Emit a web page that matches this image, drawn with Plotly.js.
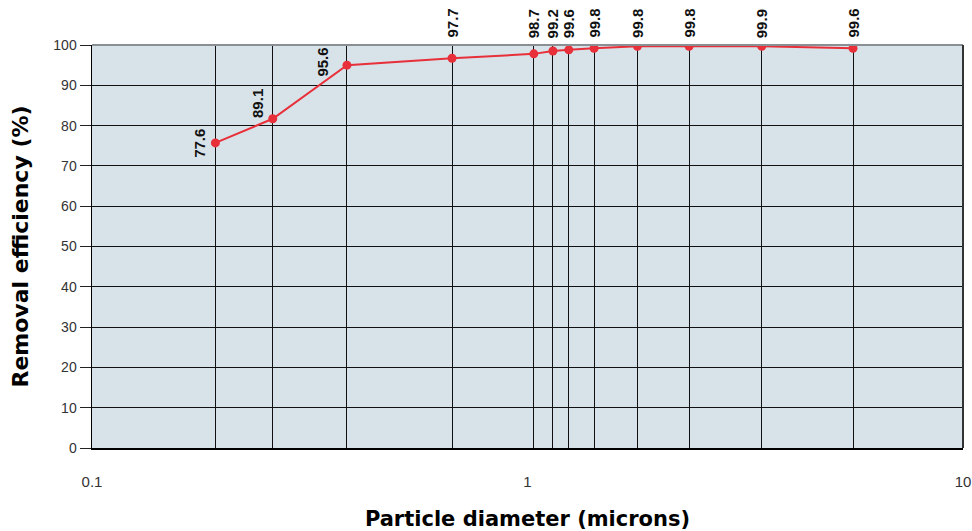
<!DOCTYPE html>
<html>
<head>
<meta charset="utf-8">
<script src="https://cdn.plot.ly/plotly-3.0.1.min.js"></script>
<style>
  html, body { margin: 0; padding: 0; background: #ffffff; }
  #chart { width: 972px; height: 531px; }
</style>
</head>
<body>
<div id="chart"></div>
<script>
// ---- Data ----
const particleDiameter = [0.192, 0.260, 0.385, 0.671, 1.034, 1.144, 1.244, 1.422, 1.788, 2.35, 3.45, 5.59];
const plottedEfficiency = [75.7, 81.7, 95.0, 96.7, 97.8, 98.5, 98.8, 99.2, 99.7, 99.7, 99.7, 99.2];
const pointLabels = ["77.6", "89.1", "95.6", "97.7", "98.7", "99.2", "99.6", "99.8", "99.8", "99.8", "99.9", "99.6"];
const xTickValues = [0.1, 1, 10];
const xTickLabels = ["0.1", "1", "10"];
const yTickValues = [0, 10, 20, 30, 40, 50, 60, 70, 80, 90, 100];

// ---- Styles ----
const RED = "#e8303a";
const PLOT_BG = "#d8e2e9";
const GRID = "#111111";
// label placement for the first few labels (drawn beside the point instead of above the plot)
const sideCount = 3;
const sideShiftX = [-5, -4, -14];
const sideShiftY = [0, 15, 3];

const trace = {
  type: "scatter",
  mode: "lines+markers",
  x: particleDiameter,
  y: plottedEfficiency,
  xaxis: "x",
  yaxis: "y",
  line: { color: RED, width: 2 },
  marker: { color: RED, size: 9 },
  hoverinfo: "x+y",
  showlegend: false
};

// invisible trace so the secondary (label) x-axis is drawn
const helper = {
  type: "scatter",
  mode: "markers",
  x: xTickValues,
  y: [null, null, null],
  xaxis: "x2",
  yaxis: "y",
  marker: { opacity: 0 },
  hoverinfo: "skip",
  showlegend: false
};

const annotations = pointLabels.map((txt, i) => {
  const base = {
    text: txt,
    showarrow: false,
    textangle: -90,
    font: { family: "Liberation Sans, Arial, sans-serif", size: 15, color: "#111111", weight: "bold" },
    xref: "x",
    x: Math.log10(particleDiameter[i])
  };
  if (i < sideCount) {
    return Object.assign(base, {
      yref: "y",
      y: plottedEfficiency[i],
      xanchor: "right",
      yanchor: "middle",
      xshift: sideShiftX[i],
      yshift: sideShiftY[i]
    });
  }
  return Object.assign(base, {
    yref: "paper",
    y: 1,
    xanchor: "center",
    yanchor: "bottom",
    yshift: 5
  });
});

const layout = {
  width: 972,
  height: 531,
  margin: { l: 92, r: 9, t: 45, b: 83 },
  paper_bgcolor: "#ffffff",
  plot_bgcolor: PLOT_BG,
  showlegend: false,
  xaxis: {
    type: "log",
    range: [-1, 1],
    tickmode: "array",
    tickvals: particleDiameter,
    ticktext: particleDiameter.map(() => ""),
    showticklabels: false,
    ticks: "",
    showgrid: true,
    gridcolor: GRID,
    gridwidth: 1,
    showline: true,
    linecolor: "#000000",
    linewidth: 1.5,
    zeroline: false,
    fixedrange: true
  },
  xaxis2: {
    type: "log",
    range: [-1, 1],
    overlaying: "x",
    anchor: "y",
    side: "bottom",
    tickmode: "array",
    tickvals: xTickValues,
    ticktext: xTickLabels,
    ticks: "outside",
    ticklen: 20,
    tickcolor: "rgba(0,0,0,0)",
    showgrid: false,
    showline: false,
    zeroline: false,
    tickfont: { family: "Liberation Sans, Arial, sans-serif", size: 15, color: "#333333" },
    title: {
      text: "Particle diameter (microns)",
      font: { family: "DejaVu Sans, sans-serif", size: 21, color: "#000000", weight: "bold" },
      standoff: 22
    }
  },
  yaxis: {
    range: [0, 100],
    tickmode: "array",
    tickvals: yTickValues,
    ticks: "outside",
    ticklen: 11,
    tickcolor: "#222222",
    tickwidth: 1,
    showgrid: true,
    gridcolor: GRID,
    gridwidth: 1,
    showline: true,
    linecolor: "#000000",
    linewidth: 1.5,
    mirror: false,
    zeroline: false,
    tickfont: { family: "Liberation Sans, Arial, sans-serif", size: 14, color: "#333333" },
    title: {
      text: "Removal efficiency (%)",
      font: { family: "DejaVu Sans, sans-serif", size: 22, color: "#000000", weight: "bold" },
      standoff: 18
    },
    fixedrange: true
  },
  shapes: [
    { type: "line", xref: "paper", yref: "paper", x0: 0, x1: 1, y0: 1, y1: 1,
      line: { color: "#8a8f93", width: 2 }, layer: "above" },
    { type: "line", xref: "paper", yref: "paper", x0: 1, x1: 1, y0: 0, y1: 1,
      line: { color: "#333333", width: 2 }, layer: "above" }
  ],
  annotations: annotations
};

Plotly.newPlot("chart", [trace, helper], layout, { displayModeBar: false, staticPlot: true });
</script>
</body>
</html>
